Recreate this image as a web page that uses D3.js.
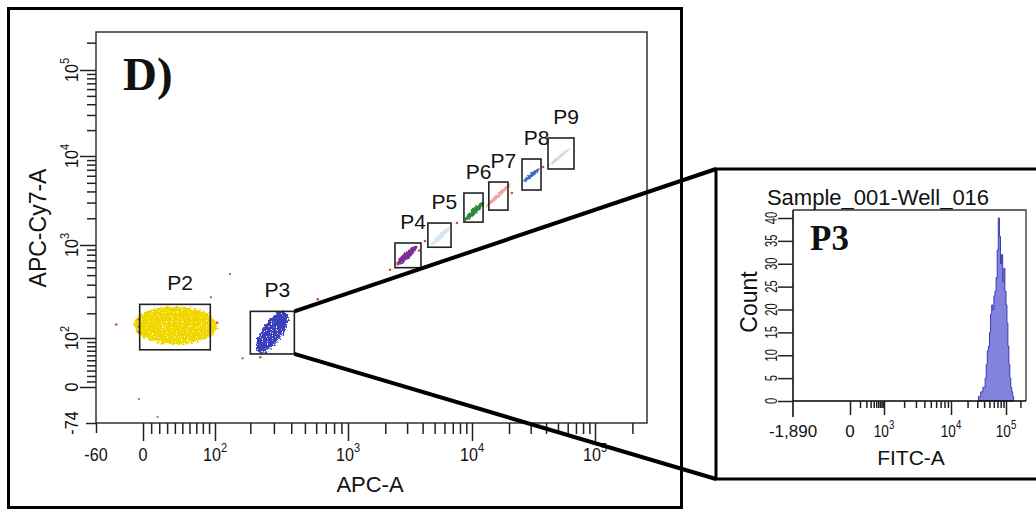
<!DOCTYPE html>
<html>
<head>
<meta charset="utf-8">
<script src="https://cdn.jsdelivr.net/npm/d3@7"></script>
<style>
  body { margin: 0; background: #fff; }
  text { font-family: "Liberation Sans", Arial, sans-serif; fill: #111; }
</style>
</head>
<body>
<div id="chart"></div>
<script>
// ---- main dot plot (APC-A vs APC-Cy7-A), biexponential axes
const xBreaks = [-60, 0, 100, 1000, 10000, 100000, 262144];
const yBreaks = [-74, 0, 100, 1000, 10000, 100000, 262144];
const xTickLabels = [["-60"], ["0"], ["10", "2"], ["10", "3"], ["10", "4"], ["10", "5"]];
const yTickLabels = [["-74"], ["0"], ["10", "2"], ["10", "3"], ["10", "4"], ["10", "5"]];

// gates: [low, high] in APC-A / APC-Cy7-A units
const gateNames = ["P2", "P3", "P4", "P5", "P6", "P7", "P8", "P9"];
const gateX = [[-4, 92], [200, 421], [2395, 3880], [4410, 6780], [8610, 12300], [13700, 19600], [25500, 36400], [41500, 67500]];
const gateY = [[72, 250], [63, 210], [594, 1053], [950, 1767], [1810, 3840], [2470, 5100], [4150, 9250], [7150, 16200]];

// populations: main axis of each cloud, start and end [APC-A, APC-Cy7-A]
const popFrom = [[0, 147], [240, 76], [2530, 656], [4840, 1026], [8960, 1960], [13200, 2740], [26500, 5240], [42300, 7730]];
const popTo = [[88, 143], [350, 185], [3530, 950], [6530, 1550], [12300, 2970], [20400, 4840], [35100, 7150], [62600, 12400]];

// single events outside the clouds
const strayRedX = [-33, -5, -5, -5, 105, 238, 616, 2185, 2530, 3740, 4180, 7570, 21100, 37800];
const strayRedY = [149, 140, 120, 170, 156, 56, 283, 566, 640, 883, 1110, 1770, 3840, 7520];
const strayGrayX = [93, 137, -5, 18, 174];
const strayGrayY = [297, 513, -23, -60, 54];
const strayBlueX = [236, 238, 330, 355, 345, 300, 250, 262];
const strayBlueY = [70, 92, 122, 125, 170, 180, 78, 66];

// ---- inset histogram of P3 (FITC-A)
const fitcBreaks = [-1890, 0, 1000, 10000, 100000, 262144];
const fitcTickLabels = [["-1,890"], ["0"], ["10", "3"], ["10", "4"], ["10", "5"]];
const countTicks = [0, 5, 10, 15, 20, 25, 30, 35, 40];
const fitcEdges = [31600, 33100, 34700, 36300, 38000, 39800, 41700, 43700, 45700, 47900, 50100, 52500,
  55000, 57500, 60300, 63100, 66100, 69200, 72400, 75900, 79400, 83200, 87100, 91200, 95500, 100000,
  104700, 109600, 114800, 120200, 125900, 131800, 138000, 144500];
const fitcCounts = [1, 1, 2, 2, 3, 3, 5, 8, 11, 12, 15, 19, 21, 20, 23, 24, 27, 33, 40, 36, 30, 32,
  26, 29, 24, 21, 17, 12, 8, 5, 3, 2, 1];

const popColors = ["#f1d700", "#3b3fba", "#7d2d98", "#d3e5f3", "#2a8a3b", "#f4a3a3", "#3c6dca", "#d8d8d8"];
const popWidths = [38, 20, 7, 5, 6, 4, 4, 3];

const width = 1036, height = 509;

const svg = d3.select("#chart").append("svg")
    .attr("width", width)
    .attr("height", height)
    .style("background", "#fff");

// ragged edges (and a few holes on the big clouds) so fills read as dots
const defs = svg.append("defs");
function makeFilter(id, disp, holes) {
  const f = defs.append("filter")
      .attr("id", id)
      .attr("filterUnits", "userSpaceOnUse")
      .attr("x", 0).attr("y", 0).attr("width", width).attr("height", height);
  f.append("feTurbulence")
      .attr("type", "fractalNoise")
      .attr("baseFrequency", 0.35)
      .attr("numOctaves", 2)
      .attr("seed", 4)
      .attr("result", "noise");
  f.append("feDisplacementMap")
      .attr("in", "SourceGraphic")
      .attr("in2", "noise")
      .attr("scale", disp)
      .attr("xChannelSelector", "R")
      .attr("yChannelSelector", "G")
      .attr("result", "disp");
  if (!holes) return;
  f.append("feTurbulence")
      .attr("type", "fractalNoise")
      .attr("baseFrequency", 0.8)
      .attr("seed", 9)
      .attr("result", "fine");
  f.append("feColorMatrix")
      .attr("in", "fine")
      .attr("type", "matrix")
      .attr("values", "0 0 0 0 0  0 0 0 0 0  0 0 0 0 0  0 0 0 14 -4.1")
      .attr("result", "mask");
  f.append("feComposite")
      .attr("in", "disp")
      .attr("in2", "mask")
      .attr("operator", "in");
}
makeFilter("speck", 7, true);
makeFilter("rough", 3, false);

// biexponential-like scale: asinh, piecewise fitted to the drawn decades
function biexScale(breaks, px, w) {
  const t = v => Math.asinh(v / w);
  const lin = d3.scaleLinear().domain(breaks.map(t)).range(px);
  const s = v => lin(t(v));
  s.domain = () => breaks.slice();
  s.range = () => lin.range();
  s.copy = () => biexScale(breaks, px, w);
  return s;
}

function logMinors(from, to) {
  const out = [];
  for (let d = from; d < to; d *= 10)
    for (let k = 2; k <= 9; k++) if (k * d <= to) out.push(k * d);
  return out;
}

function addLabel(g, parts, size, supSize) {
  const t = g.append("text")
      .attr("text-anchor", "middle")
      .attr("font-size", size);
  t.append("tspan").text(parts[0]);
  if (parts[1]) t.append("tspan")
      .attr("dy", -size * 0.45)
      .attr("font-size", supSize)
      .text(parts[1]);
}

// outer frame of panel D
svg.append("rect")
    .attr("x", 8.5).attr("y", 8.5)
    .attr("width", 673).attr("height", 499)
    .attr("fill", "none")
    .attr("stroke", "#000")
    .attr("stroke-width", 3);

const plot = {left: 96, right: 647, top: 32, bottom: 423};
const x = biexScale(xBreaks, [96, 143, 215, 348, 472, 595, 647], 100);
const y = biexScale(yBreaks, [423, 387, 338, 245, 156, 70, 32], 100);

svg.append("rect")
    .attr("x", plot.left).attr("y", plot.top)
    .attr("width", plot.right - plot.left)
    .attr("height", plot.bottom - plot.top)
    .attr("fill", "none")
    .attr("stroke", "#333")
    .attr("stroke-width", 1.5);

// x axis ticks
const xMinor = [10, 20, 30, 40, 50, 60, 70, 80, 90].concat(logMinors(100, 262144));
svg.append("g")
    .attr("transform", `translate(0, ${plot.bottom})`)
    .call(d3.axisBottom(x).tickValues(xMinor).tickSize(11).tickFormat(""))
    .call(g => g.select(".domain").remove());
svg.append("g")
    .attr("transform", `translate(0, ${plot.bottom})`)
    .call(d3.axisBottom(x).tickValues(xBreaks.slice(1, 6)).tickSize(18).tickFormat(""))
    .call(g => g.select(".domain").remove());
svg.append("g")
    .attr("transform", `translate(0, ${plot.bottom})`)
    .call(d3.axisBottom(x).tickValues([xBreaks[0]]).tickSize(10).tickFormat(""))
    .call(g => g.select(".domain").remove());
svg.selectAll(".tick line").attr("stroke", "#222").attr("stroke-width", 1.5);

xTickLabels.forEach((p, i) => {
  const g = svg.append("g")
      .attr("transform", `translate(${x(xBreaks[i])}, 461) scale(0.85, 1)`);
  addLabel(g, p, 19, 13);
});

// y axis ticks
const yMinor = [10, 20, 30, 40, 50, 60, 70, 80, 90].concat(logMinors(100, 262144));
svg.append("g")
    .attr("transform", `translate(${plot.left}, 0)`)
    .call(d3.axisLeft(y).tickValues(yMinor).tickSize(9).tickFormat(""))
    .call(g => g.select(".domain").remove());
svg.append("g")
    .attr("transform", `translate(${plot.left}, 0)`)
    .call(d3.axisLeft(y).tickValues(yBreaks.slice(1, 6)).tickSize(16).tickFormat(""))
    .call(g => g.select(".domain").remove());
svg.append("g")
    .attr("transform", `translate(${plot.left}, 0)`)
    .call(d3.axisLeft(y).tickValues([yBreaks[0]]).tickSize(10).tickFormat(""))
    .call(g => g.select(".domain").remove());
svg.selectAll(".tick line").attr("stroke", "#222").attr("stroke-width", 1.5);

yTickLabels.forEach((p, i) => {
  const g = svg.append("g")
      .attr("transform", `translate(78, ${y(yBreaks[i])}) rotate(-90) scale(0.85, 1)`);
  addLabel(g, p, 19, 13);
});

svg.append("text")
    .attr("x", 370).attr("y", 492)
    .attr("text-anchor", "middle")
    .attr("font-size", 22)
    .text("APC-A");

svg.append("text")
    .attr("transform", "translate(46, 228) rotate(-90)")
    .attr("text-anchor", "middle")
    .attr("font-size", 23)
    .text("APC-Cy7-A");

svg.append("text")
    .attr("x", 123).attr("y", 90)
    .style("font-family", "'Liberation Serif', 'Times New Roman', serif")
    .attr("font-weight", "bold")
    .attr("font-size", 47)
    .text("D)");

// populations: the two big clouds speckled, the thin streaks only ragged
const popData = popFrom.map((f, i) => ({f, t: popTo[i], i}));
function drawPops(g, rows) {
  g.selectAll("ellipse")
    .data(rows)
    .join("ellipse")
      .each(function(d) {
        const x1 = x(d.f[0]), y1 = y(d.f[1]), x2 = x(d.t[0]), y2 = y(d.t[1]);
        const len = Math.hypot(x2 - x1, y2 - y1);
        const ang = Math.atan2(y2 - y1, x2 - x1) * 180 / Math.PI;
        d3.select(this)
            .attr("cx", 0).attr("cy", 0)
            .attr("rx", len / 2 + popWidths[d.i] / 4)
            .attr("ry", popWidths[d.i] / 2)
            .attr("transform", `translate(${(x1 + x2) / 2}, ${(y1 + y2) / 2}) rotate(${ang})`);
      })
      .attr("fill", d => popColors[d.i]);
}
drawPops(svg.append("g").attr("filter", "url(#speck)"), popData.slice(0, 2));
drawPops(svg.append("g").attr("filter", "url(#rough)"), popData.slice(2));

svg.append("g").selectAll("circle")
  .data(strayBlueX.map((v, i) => [v, strayBlueY[i]]))
  .join("circle")
    .attr("cx", d => x(d[0]))
    .attr("cy", d => y(d[1]))
    .attr("r", 1.2)
    .attr("fill", popColors[1]);

svg.append("g").selectAll("circle")
  .data(strayRedX.map((v, i) => [v, strayRedY[i]]))
  .join("circle")
    .attr("cx", d => x(d[0]))
    .attr("cy", d => y(d[1]))
    .attr("r", 1.3)
    .attr("fill", "#d24a4a");

svg.append("g").selectAll("circle")
  .data(strayGrayX.map((v, i) => [v, strayGrayY[i]]))
  .join("circle")
    .attr("cx", d => x(d[0]))
    .attr("cy", d => y(d[1]))
    .attr("r", 1.2)
    .attr("fill", "#8a8aa8");

// gates and their names
const gates = svg.append("g").selectAll("g")
  .data(gateNames.map((n, i) => ({n, gx: gateX[i], gy: gateY[i]})))
  .join("g");

gates.append("rect")
    .attr("x", d => x(d.gx[0]))
    .attr("y", d => y(d.gy[1]))
    .attr("width", d => x(d.gx[1]) - x(d.gx[0]))
    .attr("height", d => y(d.gy[0]) - y(d.gy[1]))
    .attr("fill", "none")
    .attr("stroke", "#222")
    .attr("stroke-width", 1.6);

gates.append("text")
    .attr("x", d => (x(d.gx[0]) + x(d.gx[1])) / 2 + 5)
    .attr("y", d => y(d.gy[1]) - 14)
    .attr("text-anchor", "middle")
    .attr("font-size", 21)
    .text(d => d.n);

// ---- inset
const inset = {left: 716, top: 169, right: 1040, bottom: 479};
const hp = {left: 793, right: 1026, top: 210, bottom: 401};

svg.append("rect")
    .attr("x", inset.left).attr("y", inset.top)
    .attr("width", inset.right - inset.left)
    .attr("height", inset.bottom - inset.top)
    .attr("fill", "#fff")
    .attr("stroke", "#000")
    .attr("stroke-width", 3);

const fx = biexScale(fitcBreaks, [793, 850, 884, 951, 1006, 1026], 100);
const cy = d3.scaleLinear().domain([0, 40]).range([401, 218]);

const histPts = fitcEdges.map((e, i) => [e, fitcCounts[Math.min(i, fitcCounts.length - 1)]]);
svg.append("path")
    .datum(histPts)
    .attr("d", d3.area()
        .x(d => fx(d[0]))
        .y0(cy(0))
        .y1(d => cy(d[1]))
        .curve(d3.curveStepAfter))
    .attr("fill", "#8383de")
    .attr("stroke", "#3a3ab4")
    .attr("stroke-width", 1);

svg.append("path")
    .attr("d", `M${hp.left},${hp.top}H${hp.right}V${hp.bottom}`)
    .attr("fill", "none")
    .attr("stroke", "#333")
    .attr("stroke-width", 1.3);

svg.append("g")
    .attr("transform", `translate(${hp.left}, 0)`)
    .call(d3.axisLeft(cy).tickValues(countTicks).tickSize(15).tickFormat(""))
    .call(g => g.select(".domain").attr("d", `M0,${hp.top}V417`).attr("stroke-width", 1.5));

countTicks.forEach(v => {
  svg.append("g")
      .attr("transform", `translate(777, ${cy(v)}) rotate(-90) scale(0.7, 1)`)
    .append("text")
      .attr("text-anchor", "middle")
      .attr("font-size", 16)
      .text(v);
});

const fMinor = [100, 200, 300, 400, 500, 600, 700, 800, 900].concat(logMinors(1000, 262144));
svg.append("g")
    .attr("transform", `translate(0, ${hp.bottom})`)
    .call(d3.axisBottom(fx).tickValues(fMinor).tickSize(7).tickFormat(""))
    .call(g => g.select(".domain").attr("d", `M${hp.left},0H${hp.right}`).attr("stroke-width", 1.5));
svg.append("g")
    .attr("transform", `translate(0, ${hp.bottom})`)
    .call(d3.axisBottom(fx).tickValues(fitcBreaks.slice(1, 5)).tickSize(14).tickFormat(""))
    .call(g => g.select(".domain").remove());
svg.selectAll(".tick line").attr("stroke", "#222").attr("stroke-width", 1.5);

fitcTickLabels.forEach((p, i) => {
  const g = svg.append("g")
      .attr("transform", `translate(${fx(fitcBreaks[i])}, 437) scale(${p[1] ? 0.8 : 1}, 1)`);
  addLabel(g, p, 17, 12);
});

svg.append("text")
    .attr("x", 878).attr("y", 205)
    .attr("text-anchor", "middle")
    .attr("font-size", 22)
    .text("Sample_001-Well_016");

svg.append("text")
    .attr("transform", "translate(757, 302) rotate(-90)")
    .attr("text-anchor", "middle")
    .attr("font-size", 23)
    .text("Count");

svg.append("text")
    .attr("x", 911).attr("y", 465)
    .attr("text-anchor", "middle")
    .attr("font-size", 21)
    .text("FITC-A");

svg.append("text")
    .attr("x", 810).attr("y", 250)
    .style("font-family", "'Liberation Serif', 'Times New Roman', serif")
    .attr("font-weight", "bold")
    .attr("font-size", 35)
    .text("P3");

// zoom lines from gate P3 to the inset
const p3x = x(gateX[1][1]);
svg.append("g").selectAll("line")
  .data([[gateY[1][1], inset.top], [gateY[1][0], inset.bottom]])
  .join("line")
    .attr("x1", p3x)
    .attr("y1", d => y(d[0]))
    .attr("x2", inset.left)
    .attr("y2", d => d[1])
    .attr("stroke", "#000")
    .attr("stroke-width", 4);
</script>
</body>
</html>
